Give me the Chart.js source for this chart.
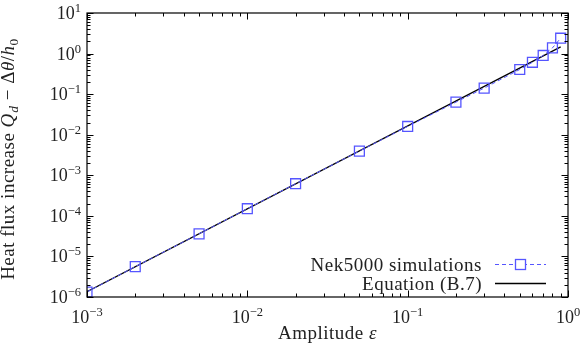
<!DOCTYPE html>
<html>
<head>
<meta charset="utf-8">
<script src="https://cdn.jsdelivr.net/npm/chart.js@4/dist/chart.umd.min.js"></script>
<style>
  html, body { margin: 0; padding: 0; background: #ffffff; }
  #wrap { width: 581px; height: 346px; }
</style>
</head>
<body>
<div id="wrap"><canvas id="c" width="581" height="346"></canvas></div>
<script>
// ---- Data ----
const seriesNames = ['Nek5000 simulations', 'Equation (B.7)'];
const nekEps = [0.001, 0.002, 0.005, 0.01, 0.02, 0.05, 0.1, 0.2, 0.3, 0.5, 0.6, 0.7, 0.8, 0.9];
const nekQ   = [1.33e-6, 5.6e-6, 3.6e-5, 1.5e-4, 6.2e-4, 3.95e-3, 0.016, 0.0635, 0.141, 0.405, 0.61, 0.90, 1.38, 2.39];
const eqEps  = [0.001, 0.9];
const eqQ    = [1.35e-6, 1.46];
const xTickExps = [-3, -2, -1, 0];
const yTickExps = [-6, -5, -4, -3, -2, -1, 0, 1];

const FONT = '"Liberation Serif", "Times New Roman", serif';
const BLUE = 'rgb(85,85,255)';

function richWidth(ctx, segs) {
  let w = 0;
  for (const s of segs) { ctx.font = s.font; w += ctx.measureText(s.text).width + (s.kern || 0); }
  return w;
}
function drawRich(ctx, segs, x, y, align) {
  const w = richWidth(ctx, segs);
  let cx = align === 'right' ? x - w : (align === 'center' ? x - w / 2 : x);
  ctx.textAlign = 'left';
  ctx.textBaseline = 'alphabetic';
  for (const s of segs) {
    ctx.font = s.font;
    ctx.fillText(s.text, cx, y + (s.dy || 0));
    cx += ctx.measureText(s.text).width + (s.kern || 0);
  }
}
function powSegs(e) {
  const ex = (e < 0 ? '−' : '') + Math.abs(e);
  return [
    { text: '10', font: '18px ' + FONT },
    { text: ex, font: '12.5px ' + FONT, dy: -7 }
  ];
}

const framePlugin = {
  id: 'framePlugin',
  afterDraw(chart) {
    const ctx = chart.ctx;
    const xs = chart.scales.x, ys = chart.scales.y;
    const L = xs.left, R = xs.right, T = ys.top, B = ys.bottom;
    ctx.save();
    ctx.strokeStyle = '#000';
    ctx.fillStyle = '#000';
    ctx.lineWidth = 1.2;
    ctx.strokeRect(L, T, R - L, B - T);

    // ticks (inward, mirrored)
    ctx.lineWidth = 1;
    ctx.beginPath();
    const xmin = Math.log10(xs.min), xmax = Math.log10(xs.max);
    for (let d = Math.round(xmin); d <= Math.round(xmax); d++) {
      for (let m = 1; m <= 9; m++) {
        const v = m * Math.pow(10, d);
        if (v < xs.min * 0.999 || v > xs.max * 1.001) continue;
        const px = Math.round(xs.getPixelForValue(v)) + 0.5;
        const len = m === 1 ? 6.5 : 3.5;
        ctx.moveTo(px, B); ctx.lineTo(px, B - len);
        ctx.moveTo(px, T); ctx.lineTo(px, T + len);
      }
    }
    const ymin = Math.log10(ys.min), ymax = Math.log10(ys.max);
    for (let d = Math.round(ymin); d <= Math.round(ymax); d++) {
      for (let m = 1; m <= 9; m++) {
        const v = m * Math.pow(10, d);
        if (v < ys.min * 0.999 || v > ys.max * 1.001) continue;
        const py = Math.round(ys.getPixelForValue(v)) + 0.5;
        const len = m === 1 ? 6.5 : 3.5;
        ctx.moveTo(L, py); ctx.lineTo(L + len, py);
        ctx.moveTo(R, py); ctx.lineTo(R - len, py);
      }
    }
    ctx.stroke();

    // tick labels
    ctx.fillStyle = '#222';
    for (const e of xTickExps) {
      const px = xs.getPixelForValue(Math.pow(10, e));
      drawRich(ctx, powSegs(e), px, B + 26, 'center');
    }
    for (const e of yTickExps) {
      const py = ys.getPixelForValue(Math.pow(10, e));
      drawRich(ctx, powSegs(e), L - 6, py + 6, 'right');
    }

    // axis titles & legend text (slightly spaced to mimic the wider original face)
    ctx.letterSpacing = '0.5px';
    const rm = '19px ' + FONT, it = 'italic 19px ' + FONT;
    const sub = 'italic 13.5px ' + FONT, subr = '13.5px ' + FONT;
    drawRich(ctx, [{ text: 'Amplitude ', font: rm }, { text: 'ε', font: it }], (L + R) / 2, 339, 'center');

    const ySegs = [
      { text: 'Heat flux increase ', font: rm },
      { text: 'Q', font: it, kern: 0.5 },
      { text: 'd', font: sub, dy: 3.5 },
      { text: ' − Δ', font: rm },
      { text: 'θ', font: it },
      { text: '/', font: rm },
      { text: 'h', font: it },
      { text: '0', font: subr, dy: 3.5 }
    ];
    ctx.save();
    ctx.translate(14, (T + B) / 2 + 4);
    ctx.rotate(-Math.PI / 2);
    drawRich(ctx, ySegs, 0, 0, 'center');
    ctx.restore();

    // legend
    const lx0 = 495, lx1 = 546, tx = 482;
    const rows = [264, 283];
    drawRich(ctx, [{ text: seriesNames[0], font: rm }], tx, rows[0] + 6.5, 'right');
    drawRich(ctx, [{ text: seriesNames[1], font: rm }], tx, rows[1] + 6.5, 'right');
    ctx.letterSpacing = '0px';
    ctx.strokeStyle = BLUE;
    ctx.lineWidth = 1;
    ctx.setLineDash([4, 3]);
    ctx.beginPath(); ctx.moveTo(lx0, rows[0] + 0.5); ctx.lineTo(lx1, rows[0] + 0.5); ctx.stroke();
    ctx.setLineDash([]);
    ctx.fillStyle = '#fff';
    ctx.lineWidth = 1.3;
    ctx.fillRect(515.5, rows[0] - 4.5, 10, 10);
    ctx.strokeRect(515.5, rows[0] - 4.5, 10, 10);
    ctx.strokeStyle = '#000';
    ctx.lineWidth = 1.3;
    ctx.beginPath(); ctx.moveTo(lx0, rows[1] + 0.5); ctx.lineTo(lx1, rows[1] + 0.5); ctx.stroke();
    ctx.restore();
  }
};

const nekData = nekEps.map((x, i) => ({ x, y: nekQ[i] }));
const eqData = eqEps.map((x, i) => ({ x, y: eqQ[i] }));

new Chart(document.getElementById('c'), {
  type: 'scatter',
  data: {
    datasets: [
      {
        label: seriesNames[0],
        data: nekData,
        showLine: true,
        borderColor: BLUE,
        borderWidth: 1,
        borderDash: [4, 3],
        pointStyle: 'rect',
        pointRadius: 7,
        pointHoverRadius: 7,
        pointBorderColor: BLUE,
        pointBackgroundColor: 'rgba(0,0,0,0)',
        pointBorderWidth: 1.3,
        order: 1
      },
      {
        label: seriesNames[1],
        data: eqData,
        showLine: true,
        borderColor: '#000',
        borderWidth: 1.3,
        pointRadius: 0,
        pointHoverRadius: 0,
        order: 2
      }
    ]
  },
  options: {
    responsive: false,
    devicePixelRatio: 1,
    animation: false,
    events: [],
    layout: { padding: { top: 13, right: 13, left: 0, bottom: 0 } },
    plugins: { legend: { display: false }, tooltip: { enabled: false } },
    scales: {
      x: {
        type: 'logarithmic', min: 0.001, max: 1,
        ticks: { display: false }, grid: { display: false }, border: { display: false },
        afterFit(s) { s.height = 49; }
      },
      y: {
        type: 'logarithmic', min: 1e-6, max: 10,
        ticks: { display: false }, grid: { display: false }, border: { display: false },
        afterFit(s) { s.width = 87; }
      }
    }
  },
  plugins: [framePlugin]
});
</script>
</body>
</html>
